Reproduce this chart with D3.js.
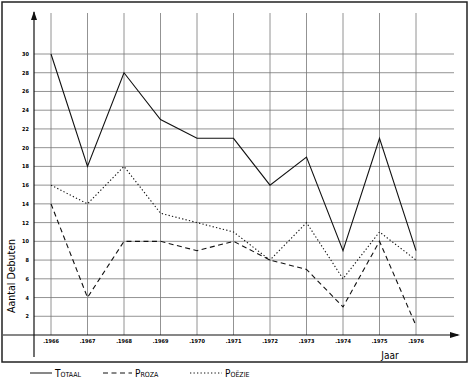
<!DOCTYPE html>
<html>
<head>
<meta charset="utf-8">
<script src="https://cdn.jsdelivr.net/npm/d3@7"></script>
<style>
  body { margin: 0; background: #fff; }
  svg { display: block; font-family: "DejaVu Sans Condensed", "DejaVu Sans", sans-serif; }
</style>
</head>
<body>
<div id="chart"></div>
<script>
// Data
const years = [1966, 1967, 1968, 1969, 1970, 1971, 1972, 1973, 1974, 1975, 1976];
const totaal = [30, 18, 28, 23, 21, 21, 16, 19, 9, 21, 9];
const proza = [14, 4, 10, 10, 9, 10, 8, 7, 3, 10, 1];
const poezie = [16, 14, 18, 13, 12, 11, 8, 12, 6, 11, 8];
const yTicks = [2, 4, 6, 8, 10, 12, 14, 16, 18, 20, 22, 24, 26, 28, 30];

const width = 470, height = 379;
const axisX = 34, axisY = 335;

const svg = d3.select("#chart").append("svg")
  .attr("width", width)
  .attr("height", height);

// outer frame
svg.append("rect")
  .attr("x", 2).attr("y", 2)
  .attr("width", 465).attr("height", 360)
  .attr("fill", "none")
  .attr("stroke", "#222")
  .attr("stroke-width", 1.5);

const x = d3.scaleLinear().domain([1966, 1976]).range([51, 416]);
const y = d3.scaleLinear().domain([0, 30]).range([axisY, 54]);

// grid
const grid = svg.append("g").attr("stroke", "#777").attr("stroke-width", 0.8);
grid.selectAll(".hgrid")
  .data(yTicks)
  .enter()
  .append("line")
  .attr("x1", axisX).attr("x2", 454)
  .attr("y1", d => y(d)).attr("y2", d => y(d));
grid.selectAll(".vgrid")
  .data(years)
  .enter()
  .append("line")
  .attr("x1", d => x(d)).attr("x2", d => x(d))
  .attr("y1", 13).attr("y2", axisY);

// axes
const axes = svg.append("g").attr("stroke", "#111").attr("stroke-width", 1.2);
axes.append("line").attr("x1", axisX).attr("x2", axisX).attr("y1", 12).attr("y2", 357);
axes.append("line").attr("x1", 3).attr("x2", 458).attr("y1", axisY).attr("y2", axisY);
svg.append("path").attr("d", `M${axisX - 3},20 L${axisX},11 L${axisX + 3},20 Z`).attr("fill", "#111");
svg.append("path").attr("d", `M450,${axisY - 3} L460,${axisY} L450,${axisY + 3} Z`).attr("fill", "#111");

// tick labels
svg.selectAll(".ylab")
  .data(yTicks)
  .enter()
  .append("text")
  .attr("x", 29)
  .attr("y", d => y(d) + 2)
  .attr("text-anchor", "end")
  .attr("font-size", 5.5)
  .attr("font-weight", "bold")
  .text(d => d);

svg.selectAll(".xlab")
  .data(years)
  .enter()
  .append("text")
  .attr("x", d => x(d))
  .attr("y", 343)
  .attr("text-anchor", "middle")
  .attr("font-size", 5.5)
  .attr("font-weight", "bold")
  .text(d => "." + d);

svg.append("text")
  .attr("transform", "translate(15,276) rotate(-90)")
  .attr("text-anchor", "middle")
  .attr("font-size", 10.5)
  .text("Aantal Debuten");

svg.append("text")
  .attr("x", 390).attr("y", 359)
  .attr("text-anchor", "middle")
  .attr("font-size", 10)
  .text("Jaar");

// series
const series = [
  { name: "Totaal", values: totaal, dash: null },
  { name: "Proza", values: proza, dash: "5,3.5" },
  { name: "Poëzie", values: poezie, dash: "1.3,2.2" }
];

const line = d3.line().x((d, i) => x(years[i])).y(d => y(d));

svg.selectAll(".series")
  .data(series)
  .enter()
  .append("path")
  .attr("d", d => line(d.values))
  .attr("fill", "none")
  .attr("stroke", "#111")
  .attr("stroke-width", 1.1)
  .attr("stroke-dasharray", d => d.dash);

// legend
const legendX = [30, 103, 190];
const legendLen = [22, 29, 32];
const legend = svg.selectAll(".legend")
  .data(series)
  .enter()
  .append("g")
  .attr("transform", (d, i) => `translate(${legendX[i]},373)`);
legend.append("line")
  .attr("x1", 0).attr("x2", (d, i) => legendLen[i])
  .attr("y1", 0).attr("y2", 0)
  .attr("stroke", "#111")
  .attr("stroke-width", 1)
  .attr("stroke-dasharray", d => d.dash);
legend.append("text")
  .attr("x", (d, i) => legendLen[i] + 3)
  .attr("y", 3.5)
  .attr("font-size", 10)
  .style("font-variant", "small-caps")
  .text(d => d.name);
</script>
</body>
</html>
